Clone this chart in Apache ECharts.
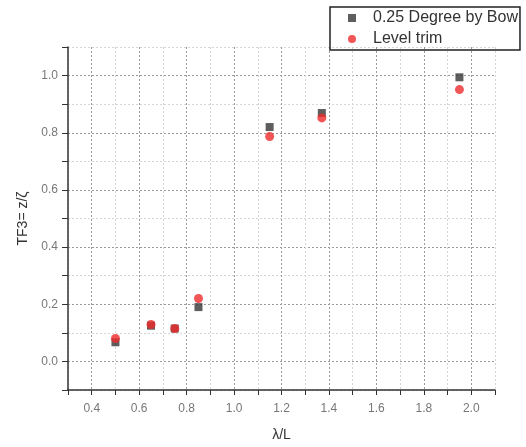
<!DOCTYPE html>
<html>
<head>
<meta charset="utf-8">
<script src="https://cdn.jsdelivr.net/npm/echarts@6/dist/echarts.min.js"></script>
<style>html,body{margin:0;padding:0;background:#fff}#c{width:526px;height:447px}</style>
</head>
<body>
<div id="c"></div>
<script>
const xValues = [0.5, 0.65, 0.75, 0.85, 1.15, 1.37, 1.95];
const bowValues = [0.067, 0.125, 0.115, 0.19, 0.82, 0.869, 0.994];
const levelValues = [0.08, 0.129, 0.115, 0.22, 0.787, 0.852, 0.951];
const seriesNames = ['0.25 Degree by Bow', 'Level trim'];
const xTitle = 'λ/L';
const yTitle = 'TF3= z/ζ';

const majorColor = '#9a9a9a';
const minorColor = '#d6d6d6';

function evenLabel(lo, hi) {
  return function (v) {
    const k = Math.round(v * 10);
    if (k % 2 !== 0 || v < lo - 1e-9 || v > hi + 1e-9) return '';
    return (k / 10).toFixed(1);
  };
}

const chart = echarts.init(document.getElementById('c'));
chart.setOption({
  animation: false,
  backgroundColor: '#fff',
  grid: { left: 68, right: 31, top: 47, bottom: 57 },
  legend: {
    orient: 'vertical',
    left: 330, top: 7,
    padding: [3, 2, 3, 18],
    itemGap: 5,
    itemWidth: 8, itemHeight: 8,
    borderColor: '#222', borderWidth: 1.5,
    textStyle: { fontFamily: 'Liberation Sans, Arial', fontSize: 16, color: '#333', padding: [0, 0, 0, 12] },
    data: seriesNames
  },
  xAxis: {
    type: 'value', min: 0.3, max: 2.1, interval: 0.1,
    name: xTitle, nameLocation: 'middle', nameGap: 38,
    nameTextStyle: { fontFamily: 'Liberation Sans, Arial', fontSize: 14, color: '#333' },
    axisLine: { onZero: false, lineStyle: { color: '#333', width: 1.5 } },
    axisTick: { length: 5, lineStyle: { color: '#333' } },
    axisLabel: { margin: 13, fontFamily: 'Liberation Sans, Arial', fontSize: 12, color: '#777', formatter: evenLabel(0.4, 2.0) },
    splitLine: { show: true, lineStyle: { color: [minorColor, majorColor], type: [2, 2], width: 1 } }
  },
  yAxis: {
    type: 'value', min: -0.1, max: 1.1, interval: 0.1,
    name: yTitle, nameLocation: 'middle', nameGap: 38, nameRotate: 90,
    nameTextStyle: { fontFamily: 'Liberation Sans, Arial', fontSize: 14, color: '#333' },
    axisLine: { show: true, onZero: false, lineStyle: { color: '#333', width: 1.5 } },
    axisTick: { show: true, length: 6, lineStyle: { color: '#333' } },
    axisLabel: { margin: 10, fontFamily: 'Liberation Sans, Arial', fontSize: 12, color: '#777', formatter: evenLabel(0.0, 1.0) },
    splitLine: { show: true, lineStyle: { color: [minorColor, majorColor], type: [2, 2], width: 1 } }
  },
  series: [
    {
      name: seriesNames[0], type: 'scatter', symbol: 'rect', symbolSize: 8,
      itemStyle: { color: '#363636' },
      data: xValues.map((x, i) => [x, bowValues[i]])
    },
    {
      name: seriesNames[1], type: 'scatter', symbol: 'circle', symbolSize: 9,
      itemStyle: { color: '#ee2b2b' },
      data: xValues.map((x, i) => [x, levelValues[i]])
    }
  ]
});
</script>
</body>
</html>
